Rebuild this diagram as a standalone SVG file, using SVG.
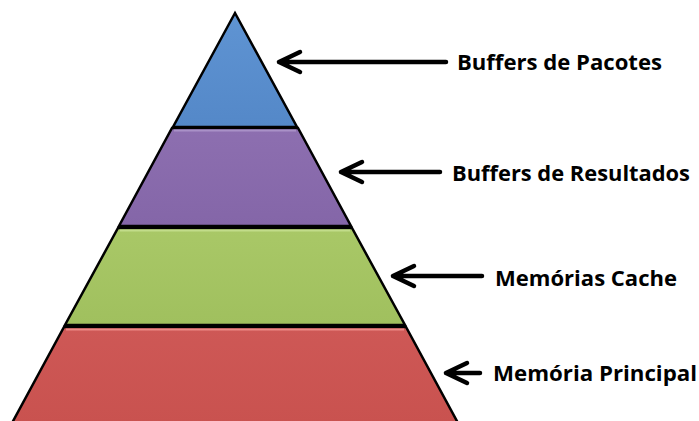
<svg xmlns="http://www.w3.org/2000/svg" width="699" height="421" viewBox="0 0 699 421">
  <style>
    .tier { stroke: #000; stroke-width: 2.5; stroke-linejoin: miter; }
    .hl { fill: none; stroke-width: 2; stroke-linecap: butt; }
    .arrow { fill: none; stroke: #000; stroke-width: 4.5; stroke-linecap: round; stroke-linejoin: round; }
    .label { font-family: "Open Sans", "Noto Sans", "Liberation Sans", sans-serif; font-weight: bold; font-size: 22px; fill: #000; }
  </style>
  <defs>
    <linearGradient id="gBlue" x1="0" y1="0" x2="0" y2="1">
      <stop offset="0" stop-color="#5f94d3"/>
      <stop offset="1" stop-color="#5488c8"/>
    </linearGradient>
    <linearGradient id="gPurple" x1="0" y1="0" x2="0" y2="1">
      <stop offset="0" stop-color="#8d6fb0"/>
      <stop offset="1" stop-color="#8466a8"/>
    </linearGradient>
    <linearGradient id="gGreen" x1="0" y1="0" x2="0" y2="1">
      <stop offset="0" stop-color="#a9c867"/>
      <stop offset="1" stop-color="#a0c05e"/>
    </linearGradient>
    <linearGradient id="gRed" x1="0" y1="0" x2="0" y2="1">
      <stop offset="0" stop-color="#ce5856"/>
      <stop offset="1" stop-color="#c9524f"/>
    </linearGradient>
  </defs>
  <rect width="699" height="421" fill="#fff"/>

  <g id="tier-pacotes">
    <polygon class="tier" fill="url(#gBlue)" points="235,13 297,127 173,127"/>
  </g>
  <g id="tier-resultados">
    <polygon class="tier" fill="url(#gPurple)" points="172,128 298,128 351,226 119,226"/>
    <line class="hl" stroke="#a991c7" x1="174" y1="130.5" x2="296" y2="130.5"/>
  </g>
  <g id="tier-cache">
    <polygon class="tier" fill="url(#gGreen)" points="118,228 352,228 405,325 65,325"/>
    <line class="hl" stroke="#c2dc8a" x1="120" y1="230.5" x2="350" y2="230.5"/>
  </g>
  <g id="tier-principal">
    <polygon class="tier" fill="url(#gRed)" points="64,327 406,327 458,423 12,423"/>
    <line class="hl" stroke="#ec8a86" x1="66" y1="329.5" x2="404" y2="329.5"/>
  </g>

  <g id="connectors">
    <path class="arrow" d="M446,62 H279 M300,52 L279,62 L300,72"/>
    <path class="arrow" d="M440,172 H341 M362,162 L341,172 L362,182"/>
    <path class="arrow" d="M482,276 H393 M414,266 L393,276 L414,286"/>
    <path class="arrow" d="M480,373 H446 M467,363 L446,373 L467,383"/>
  </g>

  <g id="labels">
    <text class="label" x="457" y="70" textLength="205" lengthAdjust="spacingAndGlyphs">Buffers de Pacotes</text>
    <text class="label" x="452" y="181" textLength="238" lengthAdjust="spacingAndGlyphs">Buffers de Resultados</text>
    <text class="label" x="495" y="286" textLength="182" lengthAdjust="spacingAndGlyphs">Memórias Cache</text>
    <text class="label" x="493" y="381" textLength="204" lengthAdjust="spacingAndGlyphs">Memória Principal</text>
  </g>
</svg>
